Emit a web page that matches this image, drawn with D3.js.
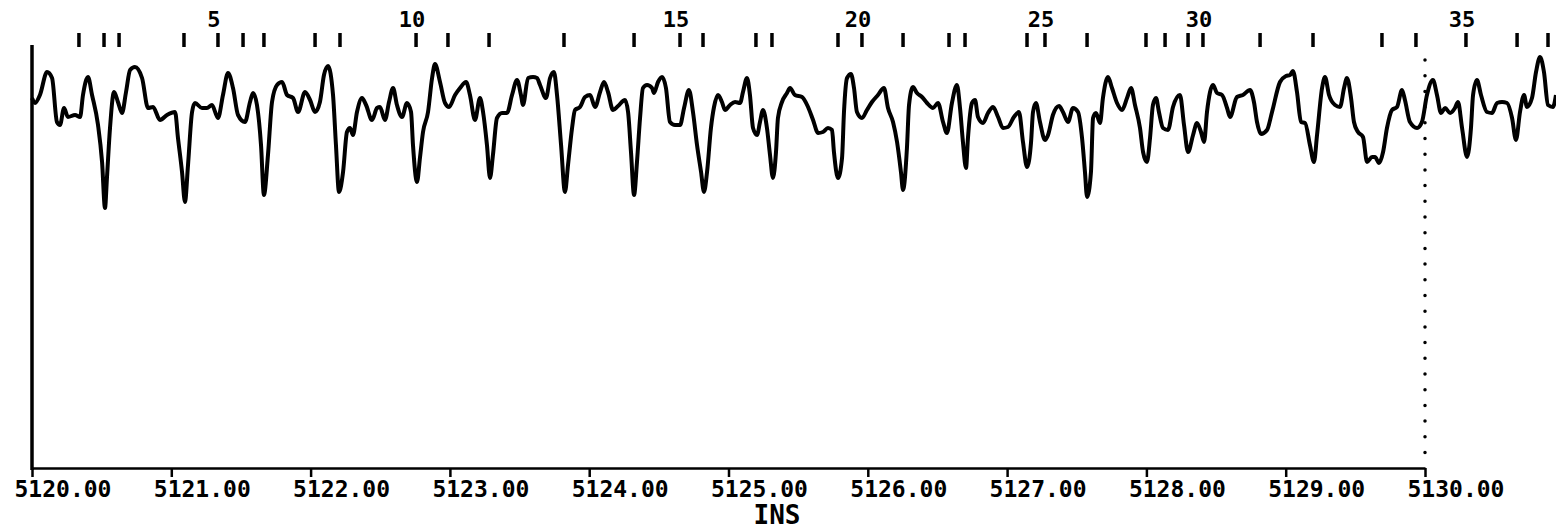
<!DOCTYPE html>
<html>
<head>
<meta charset="utf-8">
<script src="https://cdn.jsdelivr.net/npm/d3@7/dist/d3.min.js"></script>
<style>
  body { margin: 0; background: #ffffff; }
</style>
</head>
<body>
<div id="canvas"></div>
<script>
"use strict"

/* depth ticks along the bottom */
let depthTicks = [5120, 5121, 5122, 5123, 5124, 5125, 5126, 5127, 5128, 5129, 5130];

/* marker picks along the top, every fifth one gets a number */
let markerDepths = [5120.337, 5120.517, 5120.625, 5121.091, 5121.335, 5121.515, 5121.665, 5122.032, 5122.211, 5122.757,
                    5122.986, 5123.281, 5123.819, 5124.322, 5124.652, 5124.817, 5125.197, 5125.312, 5125.786, 5125.958,
                    5126.253, 5126.583, 5126.698, 5127.143, 5127.272, 5127.574, 5127.997, 5128.134, 5128.299, 5128.406,
                    5128.816, 5129.196, 5129.691, 5129.935, 5130.294, 5130.661, 5130.883];

/* reference depth shown with the dotted line */
let referenceDepth = 5130;

/* the trace: [depth, amplitude] */
let trace = [
[5120.000,370],[5120.022,365],[5120.057,373],[5120.108,396],[5120.144,390],[5120.179,346],[5120.201,343],[5120.230,360],[5120.258,351],[5120.309,353],
[5120.345,351],[5120.366,373],[5120.402,391],[5120.431,373],[5120.474,343],[5120.503,306],[5120.524,260],[5120.538,290],[5120.560,340],[5120.589,376],
[5120.617,366],[5120.646,355],[5120.675,376],[5120.704,398],[5120.739,401],[5120.790,390],[5120.833,360],[5120.869,361],[5120.919,348],[5120.969,353],
[5121.027,356],[5121.048,330],[5121.077,296],[5121.098,266],[5121.120,303],[5121.149,356],[5121.170,365],[5121.220,360],[5121.256,360],[5121.292,363],
[5121.335,350],[5121.371,373],[5121.407,395],[5121.443,380],[5121.479,353],[5121.529,346],[5121.565,366],[5121.587,375],[5121.615,363],[5121.644,323],
[5121.665,273],[5121.694,313],[5121.723,366],[5121.759,383],[5121.795,386],[5121.831,373],[5121.874,370],[5121.910,356],[5121.960,376],[5121.996,368],
[5122.032,356],[5122.067,366],[5122.096,393],[5122.125,402],[5122.161,373],[5122.182,323],[5122.204,276],[5122.233,296],[5122.261,336],[5122.283,340],
[5122.304,333],[5122.333,356],[5122.369,370],[5122.398,363],[5122.441,348],[5122.477,360],[5122.498,361],[5122.534,348],[5122.563,366],[5122.592,380],
[5122.620,363],[5122.656,351],[5122.692,365],[5122.721,356],[5122.735,323],[5122.764,286],[5122.785,310],[5122.807,336],[5122.843,356],[5122.872,390],
[5122.893,404],[5122.929,386],[5122.965,365],[5122.994,361],[5123.037,373],[5123.073,380],[5123.116,386],[5123.144,373],[5123.180,348],[5123.216,370],
[5123.238,356],[5123.266,323],[5123.288,290],[5123.309,313],[5123.338,350],[5123.374,355],[5123.410,355],[5123.446,373],[5123.482,388],[5123.510,373],
[5123.525,363],[5123.561,390],[5123.597,391],[5123.625,390],[5123.647,383],[5123.690,370],[5123.719,390],[5123.747,396],[5123.769,373],[5123.798,323],
[5123.826,276],[5123.848,303],[5123.877,340],[5123.898,358],[5123.934,361],[5123.970,371],[5124.006,373],[5124.042,361],[5124.078,376],[5124.106,386],
[5124.135,376],[5124.171,358],[5124.207,362],[5124.257,368],[5124.279,356],[5124.300,316],[5124.322,273],[5124.343,306],[5124.365,350],[5124.386,380],
[5124.415,383],[5124.451,380],[5124.465,375],[5124.494,386],[5124.523,391],[5124.551,380],[5124.580,346],[5124.616,343],[5124.652,343],[5124.681,360],
[5124.716,378],[5124.745,356],[5124.774,323],[5124.803,296],[5124.824,276],[5124.846,296],[5124.874,340],[5124.896,361],[5124.925,373],[5124.953,366],
[5124.975,358],[5125.011,363],[5125.047,366],[5125.083,365],[5125.104,376],[5125.133,390],[5125.154,373],[5125.176,340],[5125.205,333],[5125.226,346],
[5125.248,358],[5125.276,340],[5125.298,313],[5125.319,290],[5125.341,316],[5125.355,350],[5125.384,366],[5125.420,375],[5125.442,380],[5125.477,373],
[5125.528,371],[5125.571,361],[5125.607,348],[5125.643,335],[5125.678,336],[5125.714,340],[5125.743,338],[5125.757,316],[5125.786,290],[5125.815,310],
[5125.829,356],[5125.851,390],[5125.879,394],[5125.901,380],[5125.922,356],[5125.958,350],[5125.994,358],[5126.030,366],[5126.073,373],[5126.116,380],
[5126.145,360],[5126.181,346],[5126.210,326],[5126.238,296],[5126.253,278],[5126.281,320],[5126.296,363],[5126.324,381],[5126.353,375],[5126.389,371],
[5126.425,365],[5126.468,360],[5126.504,365],[5126.540,346],[5126.568,335],[5126.604,365],[5126.640,383],[5126.662,360],[5126.683,326],[5126.705,300],
[5126.719,330],[5126.748,365],[5126.770,368],[5126.791,351],[5126.827,345],[5126.863,355],[5126.899,361],[5126.935,351],[5126.971,340],[5127.006,341],
[5127.049,351],[5127.085,356],[5127.114,326],[5127.143,301],[5127.172,326],[5127.186,356],[5127.207,365],[5127.236,346],[5127.272,328],[5127.294,333],
[5127.329,353],[5127.373,362],[5127.401,356],[5127.437,346],[5127.473,360],[5127.509,356],[5127.538,330],[5127.559,296],[5127.574,271],[5127.602,296],
[5127.617,350],[5127.638,355],[5127.667,345],[5127.688,370],[5127.724,391],[5127.753,380],[5127.789,365],[5127.825,358],[5127.861,370],[5127.890,380],
[5127.918,363],[5127.954,340],[5127.976,316],[5128.004,306],[5128.026,330],[5128.047,363],[5128.069,370],[5128.090,356],[5128.119,340],[5128.155,338],
[5128.191,361],[5128.241,373],[5128.270,343],[5128.299,316],[5128.335,333],[5128.363,345],[5128.392,336],[5128.414,326],[5128.435,356],[5128.478,383],
[5128.507,375],[5128.543,373],[5128.579,360],[5128.600,351],[5128.650,371],[5128.693,373],[5128.744,378],[5128.772,366],[5128.794,346],[5128.823,334],
[5128.866,338],[5128.902,356],[5128.959,386],[5129.002,392],[5129.031,393],[5129.052,397],[5129.081,376],[5129.110,346],[5129.139,345],[5129.174,323],
[5129.203,306],[5129.225,333],[5129.261,380],[5129.282,391],[5129.311,373],[5129.354,363],[5129.390,361],[5129.419,380],[5129.440,390],[5129.469,370],
[5129.490,346],[5129.519,336],[5129.555,331],[5129.584,306],[5129.620,311],[5129.641,311],[5129.670,305],[5129.699,316],[5129.727,340],[5129.763,358],
[5129.799,361],[5129.835,378],[5129.856,368],[5129.892,346],[5129.943,340],[5129.978,346],[5130.014,373],[5130.057,388],[5130.086,373],[5130.115,355],
[5130.144,360],[5130.180,355],[5130.215,360],[5130.237,366],[5130.266,340],[5130.302,311],[5130.330,340],[5130.345,373],[5130.373,388],[5130.402,373],
[5130.445,356],[5130.481,355],[5130.517,365],[5130.553,366],[5130.589,365],[5130.625,350],[5130.653,328],[5130.682,356],[5130.711,373],[5130.732,361],
[5130.768,370],[5130.797,396],[5130.826,411],[5130.854,396],[5130.883,363],[5130.919,361],[5130.940,373]
];

let drawingWidth = 1556;
let drawingHeight = 531;

let drawing = d3.select("#canvas")
    .append("svg")
    .attr("width", drawingWidth)
    .attr("height", drawingHeight);

drawing.append("rect")
    .attr("width", drawingWidth)
    .attr("height", drawingHeight)
    .attr("fill", "#ffffff");

/* scales: depth across, amplitude up */
let xScale = d3.scaleLinear()
    .domain([5120, 5130])
    .range([32, 1425]);

let yScale = d3.scaleLinear()
    .domain([0, 423])
    .range([468, 45]);

let plotFont = "'DejaVu Sans Mono', 'Liberation Mono', monospace";

/* left border line */
drawing.append("line")
    .attr("x1", xScale(5120))
    .attr("y1", yScale(423))
    .attr("x2", xScale(5120))
    .attr("y2", yScale(0) + 2)
    .attr("stroke", "black")
    .attr("stroke-width", 3.5);

/* bottom depth axis */
let bottomAxis = d3.axisBottom(xScale)
    .tickValues(depthTicks)
    .tickSize(9)
    .tickSizeOuter(0)
    .tickFormat(d3.format(".2f"));

let axisGroup = drawing.append("g")
    .attr("transform", "translate(0," + yScale(0) + ")")
    .call(bottomAxis);

axisGroup.select(".domain")
    .attr("stroke-width", 2.5);

axisGroup.selectAll(".tick line")
    .attr("stroke-width", 2.5);

axisGroup.selectAll(".tick text")
    .attr("text-anchor", "start")
    .attr("x", -18)
    .attr("y", 29)
    .attr("dy", 0)
    .attr("fill", "black")
    .style("font-family", plotFont)
    .style("font-weight", "bold")
    .style("font-size", "23px");

/* axis title */
drawing.append("text")
    .attr("x", 777)
    .attr("y", 524)
    .attr("text-anchor", "middle")
    .style("font-family", plotFont)
    .style("font-weight", "bold")
    .style("font-size", "26px")
    .text("INS");

/* dotted reference line */
drawing.append("line")
    .attr("x1", xScale(referenceDepth))
    .attr("y1", 60)
    .attr("x2", xScale(referenceDepth))
    .attr("y2", 458)
    .attr("stroke", "black")
    .attr("stroke-width", 3.5)
    .attr("stroke-linecap", "round")
    .attr("stroke-dasharray", "0,15.7");

/* marker ticks across the top */
drawing.selectAll(".marker")
    .data(markerDepths)
    .enter()
    .append("line")
    .attr("class", "marker")
    .attr("x1", d => xScale(d))
    .attr("x2", d => xScale(d))
    .attr("y1", 33)
    .attr("y2", 47)
    .attr("stroke", "black")
    .attr("stroke-width", 3.5);

drawing.selectAll(".markerLabel")
    .data(markerDepths.filter((d, i) => (i + 1) % 5 === 0))
    .enter()
    .append("text")
    .attr("class", "markerLabel")
    .attr("x", d => xScale(d) - 4)
    .attr("y", 27)
    .attr("text-anchor", "middle")
    .style("font-family", plotFont)
    .style("font-weight", "bold")
    .style("font-size", "22px")
    .text((d, i) => (i + 1) * 5);

/* the trace itself */
let traceLine = d3.line()
    .x(d => xScale(d[0]))
    .y(d => yScale(d[1]))
    .curve(d3.curveMonotoneX);

drawing.append("path")
    .datum(trace)
    .attr("d", traceLine)
    .attr("fill", "none")
    .attr("stroke", "black")
    .attr("stroke-width", 4)
    .attr("stroke-linejoin", "round");
</script>
</body>
</html>
